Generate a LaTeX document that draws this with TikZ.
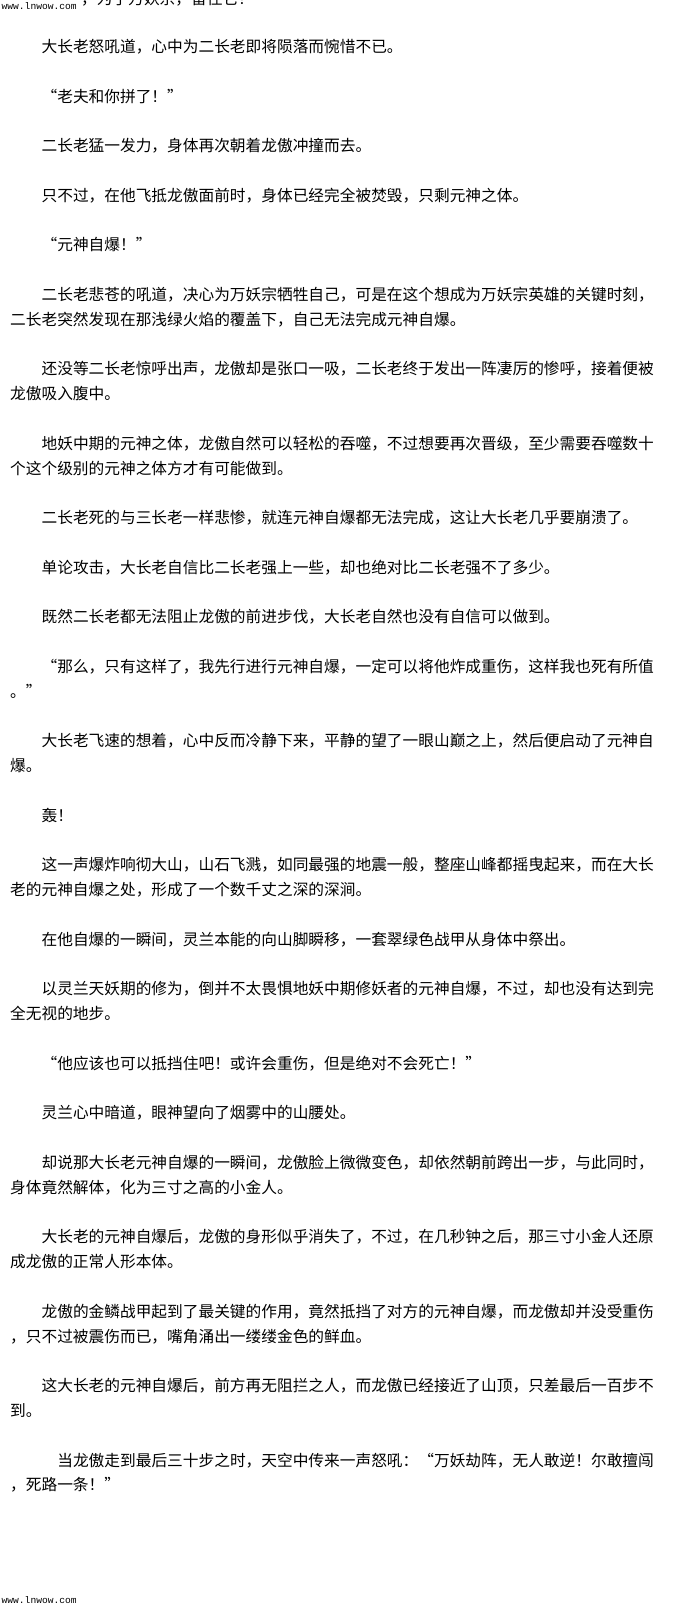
\documentclass[tikz,border=0pt]{standalone}
\usepackage{xcolor}
\usepackage{fontspec}
\newfontfamily\cjk[RawFeature=+fwid]{Noto Sans CJK SC}
\newfontfamily\site{Liberation Mono}
\usepackage{tikz}

\tikzset{
	txt/.style={anchor=base west, inner sep=0pt, font=\cjk\fontsize{15.7}{15.7}\selectfont},
	sitemark/.style={anchor=base west, inner sep=0pt, font=\site\fontsize{9.6}{9.6}\selectfont}
}

\begin{document}
\begin{tikzpicture}[x=1pt, y=-1pt]
	\useasboundingbox (0,0) rectangle (680,1607);
	\fill[white] (0,0) rectangle (680,1607);
	\clip (0,0) rectangle (680,1607);

	\node[txt] (top) at (81,4.5) {，为了万妖宗，留住它！};
	\node[sitemark, fill=white] (siteA) at (1.5,9.5) {www.lnwow.com};

	\node[txt] (l1) at (41.4,52.5) {大长老怒吼道，心中为二长老即将陨落而惋惜不已。};
	\node[txt] (l2) at (41.4,102.1) {“老夫和你拼了！”};
	\node[txt] (l3) at (41.4,151.7) {二长老猛一发力，身体再次朝着龙傲冲撞而去。};
	\node[txt] (l4) at (41.4,201.3) {只不过，在他飞抵龙傲面前时，身体已经完全被焚毁，只剩元神之体。};
	\node[txt] (l5) at (41.4,250.9) {“元神自爆！”};
	\node[txt] (l6) at (41.4,300.5) {二长老悲苍的吼道，决心为万妖宗牺牲自己，可是在这个想成为万妖宗英雄的关键时刻，};
	\node[txt] (l7) at (10,325.3) {二长老突然发现在那浅绿火焰的覆盖下，自己无法完成元神自爆。};
	\node[txt] (l8) at (41.4,374.9) {还没等二长老惊呼出声，龙傲却是张口一吸，二长老终于发出一阵凄厉的惨呼，接着便被};
	\node[txt] (l9) at (10,399.7) {龙傲吸入腹中。};
	\node[txt] (l10) at (41.4,449.3) {地妖中期的元神之体，龙傲自然可以轻松的吞噬，不过想要再次晋级，至少需要吞噬数十};
	\node[txt] (l11) at (10,474.1) {个这个级别的元神之体方才有可能做到。};
	\node[txt] (l12) at (41.4,523.7) {二长老死的与三长老一样悲惨，就连元神自爆都无法完成，这让大长老几乎要崩溃了。};
	\node[txt] (l13) at (41.4,573.3) {单论攻击，大长老自信比二长老强上一些，却也绝对比二长老强不了多少。};
	\node[txt] (l14) at (41.4,622.9) {既然二长老都无法阻止龙傲的前进步伐，大长老自然也没有自信可以做到。};
	\node[txt] (l15) at (41.4,672.5) {“那么，只有这样了，我先行进行元神自爆，一定可以将他炸成重伤，这样我也死有所值};
	\node[txt] (l16) at (10,697.3) {。”};
	\node[txt] (l17) at (41.4,746.9) {大长老飞速的想着，心中反而冷静下来，平静的望了一眼山巅之上，然后便启动了元神自};
	\node[txt] (l18) at (10,771.7) {爆。};
	\node[txt] (l19) at (41.4,821.3) {轰！};
	\node[txt] (l20) at (41.4,870.9) {这一声爆炸响彻大山，山石飞溅，如同最强的地震一般，整座山峰都摇曳起来，而在大长};
	\node[txt] (l21) at (10,895.7) {老的元神自爆之处，形成了一个数千丈之深的深涧。};
	\node[txt] (l22) at (41.4,945.3) {在他自爆的一瞬间，灵兰本能的向山脚瞬移，一套翠绿色战甲从身体中祭出。};
	\node[txt] (l23) at (41.4,994.9) {以灵兰天妖期的修为，倒并不太畏惧地妖中期修妖者的元神自爆，不过，却也没有达到完};
	\node[txt] (l24) at (10,1019.7) {全无视的地步。};
	\node[txt] (l25) at (41.4,1069.3) {“他应该也可以抵挡住吧！或许会重伤，但是绝对不会死亡！”};
	\node[txt] (l26) at (41.4,1118.9) {灵兰心中暗道，眼神望向了烟雾中的山腰处。};
	\node[txt] (l27) at (41.4,1168.5) {却说那大长老元神自爆的一瞬间，龙傲脸上微微变色，却依然朝前跨出一步，与此同时，};
	\node[txt] (l28) at (10,1193.3) {身体竟然解体，化为三寸之高的小金人。};
	\node[txt] (l29) at (41.4,1242.9) {大长老的元神自爆后，龙傲的身形似乎消失了，不过，在几秒钟之后，那三寸小金人还原};
	\node[txt] (l30) at (10,1267.7) {成龙傲的正常人形本体。};
	\node[txt] (l31) at (41.4,1317.3) {龙傲的金鳞战甲起到了最关键的作用，竟然抵挡了对方的元神自爆，而龙傲却并没受重伤};
	\node[txt] (l32) at (10,1342.1) {，只不过被震伤而已，嘴角涌出一缕缕金色的鲜血。};
	\node[txt] (l33) at (41.4,1391.7) {这大长老的元神自爆后，前方再无阻拦之人，而龙傲已经接近了山顶，只差最后一百步不};
	\node[txt] (l34) at (10,1416.5) {到。};
	\node[txt] (l35) at (57.1,1466.1) {当龙傲走到最后三十步之时，天空中传来一声怒吼：“万妖劫阵，无人敢逆！尔敢擅闯};
	\node[txt] (l36) at (10,1490.9) {，死路一条！”};

	\node[sitemark] (siteB) at (1.5,1603) {www.lnwow.com};
\end{tikzpicture}
\end{document}
